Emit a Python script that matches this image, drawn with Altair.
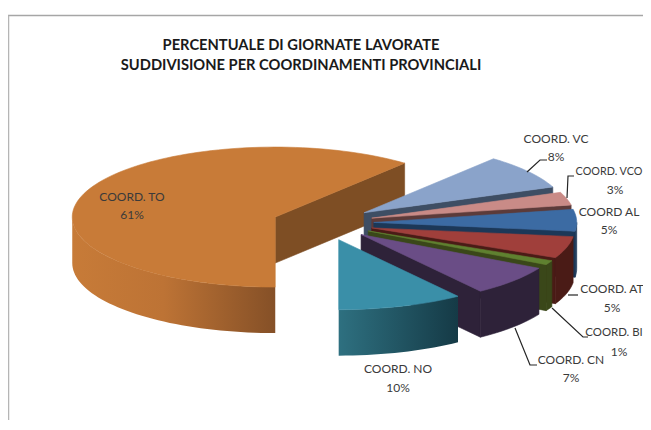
import math
import altair as alt

# ---- chart values -------------------------------------------------------
names = ["COORD. TO", "COORD. VC", "COORD. VCO", "COORD AL", "COORD. AT", "COORD. BI", "COORD. CN", "COORD.  NO"]
shares = [61, 8, 3, 5, 5, 1, 7, 10]
title_lines = ["PERCENTUALE DI GIORNATE LAVORATE", "SUDDIVISIONE PER COORDINAMENTI PROVINCIALI"]

# ---- styling ------------------------------------------------------------
top_colors = ["#c87b38", "#8aa3ca", "#c98b87", "#3c6ba3", "#a03f3b", "#5f8130", "#6a4d86", "#3a8fa8"]
side_colors = ["#7e4e24", "#3e4e64", "#5c3b3a", "#1c3858", "#4a1b16", "#3a4719", "#2e2239", "#1f4f5e"]
rim_stops = {
    0: [("#c77b38", 0), ("#bd7335", 0.45), ("#855027", 1)],
    7: [("#2e7080", 0), ("#153a46", 1)],
}

# ---- layout (page pixels) -------------------------------------------------
OFF = 8
W, H = 635, 412
CX, CY = 323, 223     # pie centre before exploding
RX, RY = 203, 70      # ellipse radii of the tilted pie
DEPTH = 46            # thickness
EXPLODE = 0.25


def pt(apex, deg, dy=0):
    t = math.radians(deg)
    return [apex[0] + RX * math.sin(t), apex[1] - RY * math.cos(t) + dy]


def arc(apex, a, b, dy=0, step=2):
    n = max(2, int(abs(b - a) / step) + 1)
    return [pt(apex, a + (b - a) * i / n, dy) for i in range(n + 1)]


def feature(points):
    ring = [list(p) for p in points] + [list(points[0])]
    return {"type": "Feature", "properties": {}, "geometry": {"type": "Polygon", "coordinates": [ring]}}


def shape(points, fill):
    style = {"strokeWidth": 0, "strokeOpacity": 0}
    if isinstance(fill, str):
        style = {"stroke": fill, "strokeWidth": 0.6}
    return (
        alt.Chart(alt.Data(values=[feature(points)]))
        .mark_geoshape(fill=fill, **style)
        .project(type="identity", scale=1, translate=[-OFF, -OFF])
    )


layers = []
# frame
layers.append(alt.Chart(alt.Data(values=[{"a": 0}])).mark_rule(color="#a6a6a6", strokeWidth=1.5).encode(
    x=alt.value(0), x2=alt.value(W), y=alt.value(7.5)))
layers.append(alt.Chart(alt.Data(values=[{"a": 0}])).mark_rule(color="#b5b5b5", strokeWidth=1.5).encode(
    x=alt.value(0.5), y=alt.value(7.5), y2=alt.value(H)))

# slice 0 starts straight down and runs clockwise; the others follow it
angles = []
total = sum(shares)
a0 = 180.0
for s in shares:
    sweep = 360.0 * s / total
    a, b = a0, a0 + sweep
    if a >= 360:
        a, b = a - 360, b - 360
    angles.append((a, b))
    a0 += sweep

for i, (a, b) in enumerate(angles):
    mid = math.radians((a + b) / 2)
    apex = (CX + EXPLODE * RX * math.sin(mid), CY - EXPLODE * RY * math.cos(mid))
    # radial face at the clockwise end
    end_norm = b % 360
    if 1 < end_norm < 179:
        p = pt(apex, b)
        layers.append(shape([list(apex), p, [p[0], p[1] + DEPTH], [apex[0], apex[1] + DEPTH]], side_colors[i]))
    # outer rim, front half only
    ra, rb = max(a, 90), min(b, 270)
    if rb > ra:
        upper = arc(apex, ra, rb)
        lower = arc(apex, rb, ra, DEPTH)
        if i in rim_stops:
            fill = alt.LinearGradient(
                gradient="linear", x1=0, y1=0, x2=1, y2=0,
                stops=[alt.GradientStop(color=c, offset=o) for c, o in rim_stops[i]],
            )
        else:
            fill = side_colors[i]
        layers.append(shape(upper + lower, fill))
    # top face
    layers.append(shape([list(apex)] + arc(apex, a, b), top_colors[i]))

# ---- leader lines ---------------------------------------------------------
leaders = [
    [(527, 172), (540, 160), (547, 160)],
    [(567, 198), (568, 176), (574, 176)],
    [(568, 295), (578, 295)],
    [(552, 308), (583, 337), (588, 337)],
    [(515, 328), (530, 365), (537, 365)],
]
rows = [
    {"g": g, "i": k, "x": x - OFF, "y": y - OFF}
    for g, line in enumerate(leaders)
    for k, (x, y) in enumerate(line)
]
layers.append(
    alt.Chart(alt.Data(values=rows)).mark_line(color="#262626", strokeWidth=1.2).encode(
        x=alt.X("x:Q", scale=None, axis=None),
        y=alt.Y("y:Q", scale=None, axis=None),
        detail="g:N",
        order="i:Q",
    )
)

# ---- text ------------------------------------------------------------------
name_pos = [(132, 197), (556, 139), (609, 172), (609, 212), (612, 289), (614, 333), (571, 360), (398, 369)]
pct_pos = [(132, 215), (556, 157), (615, 190), (609, 230), (612, 308), (619, 352), (571, 378), (398, 388)]
name_sizes = [12, 12, 10.8, 12, 12, 11.4, 12, 12]
labels = []
for n, s, fs, np_, pp in zip(names, shares, name_sizes, name_pos, pct_pos):
    labels.append({"t": n, "x": np_[0] - OFF, "y": np_[1] - OFF, "s": fs})
    labels.append({"t": f"{s}%", "x": pp[0] - OFF, "y": pp[1] - OFF, "s": 12})
layers.append(
    alt.Chart(alt.Data(values=labels)).mark_text(font="Lato", color="#3a3a3a", align="center", baseline="middle").encode(
        x=alt.X("x:Q", scale=None, axis=None),
        y=alt.Y("y:Q", scale=None, axis=None),
        size=alt.Size("s:Q", scale=None, legend=None),
        text="t:N",
    )
)
title_rows = [
    {"t": title_lines[0], "x": 301 - OFF, "y": 46 - OFF},
    {"t": title_lines[1], "x": 301 - OFF, "y": 65.5 - OFF},
]
layers.append(
    alt.Chart(alt.Data(values=title_rows)).mark_text(font="Lato", fontSize=14.7, fontWeight="bold", color="#1a1a1a", align="center", baseline="middle").encode(
        x=alt.X("x:Q", scale=None, axis=None),
        y=alt.Y("y:Q", scale=None, axis=None),
        text="t:N",
    )
)

chart = (
    alt.layer(*layers)
    .properties(width=W, height=H, padding=0, background="white",
                autosize=alt.AutoSizeParams(type="none"))
    .configure_view(strokeWidth=0)
)
chart.save("out.html", embed_options={"renderer": "svg", "actions": False})
